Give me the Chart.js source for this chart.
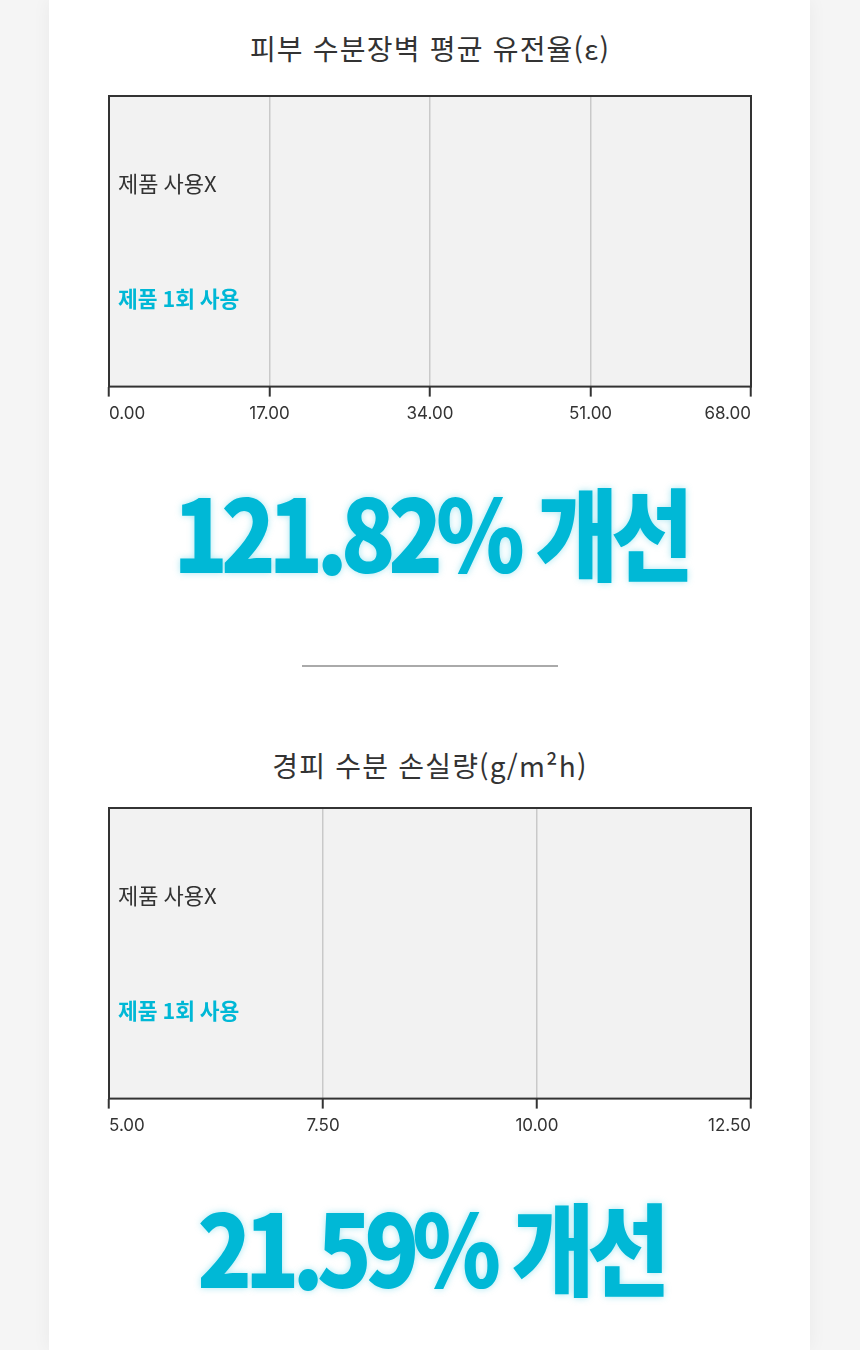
<!DOCTYPE html>
<html lang="ko">
<head>
<meta charset="utf-8">
<script src="https://cdn.jsdelivr.net/npm/chart.js@4"></script>
<style>
  html,body{margin:0;padding:0;}
  body{width:860px;height:1350px;background:#f5f5f5;position:relative;overflow:hidden;font-family:"Noto Sans CJK KR","Noto Sans",sans-serif;}
  #card{position:absolute;left:49px;top:0;width:761px;height:1350px;background:#fff;box-shadow:0 0 18px rgba(0,0,0,0.05);}
  .title{position:absolute;left:0;width:860px;text-align:center;font-size:28px;line-height:36px;color:#333;letter-spacing:1.2px;font-weight:400;}
  .chartbox{position:absolute;left:100px;width:660px;height:350px;}
  .big{position:absolute;left:0;width:860px;text-align:center;font-size:100px;line-height:130px;font-weight:900;color:#00b8d6;letter-spacing:-0.08em;text-shadow:0 0 8px rgba(0,184,214,0.35);transform:scaleX(0.9);transform-origin:430px 50%;}
  .divider{position:absolute;left:302px;top:665px;width:256px;height:2px;background:#aaa;}
</style>
</head>
<body>
<div id="card"></div>
<div class="title" style="top:30px">피부 수분장벽 평균 유전율(ε)</div>
<div class="chartbox" style="top:86px"><canvas id="c1"></canvas></div>
<div class="big" style="top:465px">121.82% 개선</div>
<div class="divider"></div>
<div class="title" style="top:747px">경피 수분 손실량(g/m²h)</div>
<div class="chartbox" style="top:798px"><canvas id="c2"></canvas></div>
<div class="big" style="top:1180px">21.59% 개선</div>
<script>
// ---- data ----
const categories = ['제품 사용X', '제품 1회 사용'];
// No bars are visible in the reference, so values are left empty.
const chart1Values = [null, null];
const chart1Ticks = [0, 17, 34, 51, 68];
const chart2Values = [null, null];
const chart2Ticks = [5, 7.5, 10, 12.5];

const CYAN = '#00b8d6';
const DARK = '#333333';

const boxPlugin = {
  id: 'boxPlugin',
  beforeDraw(chart) {
    const {ctx, chartArea: a} = chart;
    ctx.save();
    ctx.fillStyle = '#f2f2f2';
    ctx.fillRect(a.left, a.top, a.right - a.left, a.bottom - a.top);
    ctx.restore();
  },
  afterDraw(chart) {
    const {ctx, chartArea: a} = chart;
    ctx.save();
    ctx.strokeStyle = DARK;
    ctx.lineWidth = 2;
    ctx.strokeRect(a.left, a.top, a.right - a.left, a.bottom - a.top);
    ctx.restore();
  }
};

function makeChart(id, values, ticks) {
  return new Chart(document.getElementById(id), {
    type: 'bar',
    data: {
      labels: categories,
      datasets: [{ data: values, backgroundColor: [DARK, CYAN] }]
    },
    plugins: [boxPlugin],
    options: {
      indexAxis: 'y',
      responsive: true,
      maintainAspectRatio: false,
      animation: false,
      layout: { padding: { left: 9, right: 9, top: 10, bottom: 5 } },
      plugins: { legend: { display: false }, tooltip: { enabled: false } },
      scales: {
        x: {
          type: 'linear',
          min: ticks[0],
          max: ticks[ticks.length - 1],
          afterBuildTicks: (axis) => { axis.ticks = ticks.map(v => ({ value: v })); },
          border: { display: false },
          grid: {
            color: '#c9c9c9',
            lineWidth: 1.5,
            tickColor: DARK,
            tickWidth: 2,
            tickLength: 10
          },
          ticks: {
            align: 'inner',
            padding: 7,
            color: DARK,
            font: { family: 'Inter, "Noto Sans", sans-serif', size: 17 },
            callback: (v) => Number(v).toFixed(2)
          }
        },
        y: {
          type: 'linear',
          reverse: true,
          offset: false,
          min: -0.76,
          max: 1.76,
          afterBuildTicks: (axis) => { axis.ticks = categories.map((_, i) => ({ value: i })); },
          afterFit: (axis) => { axis.width = 0; axis.paddingTop = 0; axis.paddingBottom = 0; },
          border: { display: false },
          grid: { display: false, drawTicks: false },
          ticks: {
            mirror: true,
            padding: 9,
            callback: (v, i) => categories[i],
            color: (ctx) => ctx.index === 1 ? CYAN : DARK,
            font: (ctx) => ({ family: '"Noto Sans CJK KR", sans-serif', size: ctx.index === 1 ? 21.5 : 22, weight: ctx.index === 1 ? '700' : '400' })
          }
        }
      }
    }
  });
}

makeChart('c1', chart1Values, chart1Ticks);
makeChart('c2', chart2Values, chart2Ticks);
</script>
</body>
</html>
